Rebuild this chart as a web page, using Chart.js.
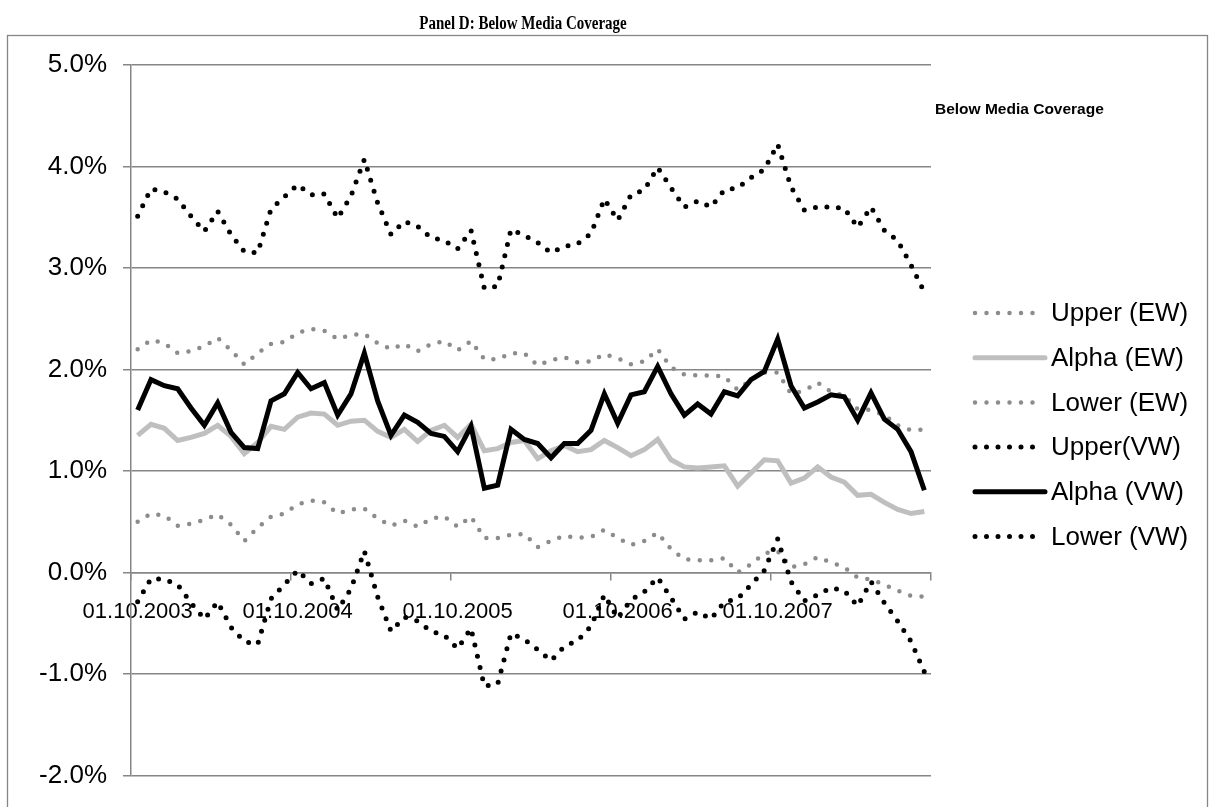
<!DOCTYPE html>
<html>
<head>
<meta charset="utf-8">
<script src="https://cdn.jsdelivr.net/npm/chart.js@4.4.1/dist/chart.umd.min.js"></script>
<style>
  html, body { margin: 0; padding: 0; background: #ffffff; }
  canvas { display: block; }
</style>
</head>
<body>
<canvas id="chart" width="1215" height="807"></canvas>
<script>
// Monthly observation dates
const months = [
  '01.10.2003','01.11.2003','01.12.2003',
  '01.01.2004','01.02.2004','01.03.2004','01.04.2004','01.05.2004','01.06.2004',
  '01.07.2004','01.08.2004','01.09.2004','01.10.2004','01.11.2004','01.12.2004',
  '01.01.2005','01.02.2005','01.03.2005','01.04.2005','01.05.2005','01.06.2005',
  '01.07.2005','01.08.2005','01.09.2005','01.10.2005','01.11.2005','01.12.2005',
  '01.01.2006','01.02.2006','01.03.2006','01.04.2006','01.05.2006','01.06.2006',
  '01.07.2006','01.08.2006','01.09.2006','01.10.2006','01.11.2006','01.12.2006',
  '01.01.2007','01.02.2007','01.03.2007','01.04.2007','01.05.2007','01.06.2007',
  '01.07.2007','01.08.2007','01.09.2007','01.10.2007','01.11.2007','01.12.2007',
  '01.01.2008','01.02.2008','01.03.2008','01.04.2008','01.05.2008','01.06.2008',
  '01.07.2008','01.08.2008','01.09.2008'
];

// Equal-weighted portfolio: alpha with upper / lower confidence bounds (in %)
const upperEW = [2.20,2.29,2.26,2.16,2.18,2.23,2.31,2.19,2.05,2.16,2.25,2.27,2.36,2.40,2.38,
                 2.30,2.34,2.35,2.26,2.20,2.25,2.18,2.25,2.28,2.19,2.28,2.10,2.10,2.16,2.16,
                 2.04,2.09,2.12,2.07,2.08,2.15,2.11,2.05,2.08,2.20,2.02,1.95,1.94,1.94,1.93,
                 1.80,1.90,1.97,1.97,1.76,1.79,1.87,1.78,1.74,1.61,1.60,1.55,1.45,1.40,1.41];
const alphaEW = [1.35,1.46,1.42,1.30,1.33,1.37,1.45,1.34,1.17,1.28,1.44,1.41,1.53,1.57,1.56,
                 1.45,1.49,1.50,1.39,1.33,1.41,1.29,1.40,1.45,1.33,1.46,1.20,1.22,1.28,1.30,
                 1.12,1.20,1.25,1.19,1.21,1.30,1.23,1.15,1.21,1.31,1.11,1.04,1.03,1.04,1.05,
                 0.85,0.98,1.11,1.10,0.88,0.93,1.04,0.94,0.89,0.76,0.77,0.69,0.62,0.58,0.60];
const lowerEW = [0.50,0.58,0.56,0.46,0.48,0.52,0.57,0.47,0.31,0.44,0.55,0.58,0.67,0.71,0.69,
                 0.58,0.62,0.63,0.53,0.46,0.51,0.45,0.53,0.55,0.45,0.55,0.34,0.34,0.37,0.38,
                 0.25,0.31,0.36,0.34,0.35,0.42,0.34,0.27,0.31,0.39,0.23,0.13,0.12,0.12,0.14,
                 0.00,0.08,0.19,0.21,0.05,0.08,0.15,0.10,0.05,-0.05,-0.07,-0.12,-0.18,-0.23,-0.24];

// Value-weighted portfolio: alpha with upper / lower confidence bounds (in %)
const upperVW = [3.51,3.78,3.75,3.68,3.51,3.36,3.56,3.33,3.16,3.15,3.58,3.70,3.82,3.72,3.73,
                 3.49,3.71,4.07,3.64,3.33,3.46,3.41,3.30,3.27,3.19,3.37,2.80,2.82,3.38,3.32,
                 3.25,3.15,3.21,3.24,3.34,3.68,3.47,3.72,3.77,3.99,3.79,3.60,3.66,3.60,3.77,
                 3.79,3.89,3.97,4.22,3.80,3.57,3.60,3.60,3.59,3.40,3.60,3.37,3.27,3.03,2.76];
const alphaVW = [1.60,1.90,1.84,1.81,1.62,1.45,1.67,1.38,1.23,1.22,1.69,1.76,1.97,1.81,1.87,
                 1.55,1.76,2.16,1.69,1.35,1.55,1.48,1.37,1.34,1.19,1.44,0.83,0.86,1.41,1.31,
                 1.27,1.13,1.27,1.27,1.40,1.76,1.47,1.75,1.78,2.03,1.76,1.55,1.66,1.56,1.78,
                 1.74,1.90,1.98,2.30,1.84,1.62,1.68,1.75,1.73,1.50,1.77,1.51,1.41,1.19,0.81];
const lowerVW = [-0.29,-0.06,-0.07,-0.12,-0.30,-0.46,-0.29,-0.54,-0.68,-0.71,-0.26,-0.12,0.02,-0.11,-0.06,
                 -0.37,-0.16,0.21,-0.24,-0.58,-0.44,-0.48,-0.58,-0.62,-0.75,-0.55,-1.12,-1.10,-0.60,-0.66,
                 -0.76,-0.87,-0.73,-0.67,-0.53,-0.22,-0.45,-0.27,-0.19,-0.05,-0.25,-0.46,-0.39,-0.46,-0.29,
                 -0.26,-0.12,0.02,0.33,-0.09,-0.28,-0.22,-0.15,-0.18,-0.33,-0.09,-0.30,-0.48,-0.68,-0.98];

const seriesNames = ['Upper (EW)', 'Alpha (EW)', 'Lower (EW)', 'Upper(VW)', 'Alpha (VW)', 'Lower (VW)'];
const yMin = -2, yMax = 5, yStep = 1;
const labelEvery = 12;

const panelTitle = 'Panel D: Below Media Coverage';
const chartTitle = 'Below Media Coverage';

const AXIS_GRAY = '#868686';
const DOT_GRAY = '#8c8c8c';
const LIGHT_GRAY = '#bfbfbf';
const SANS = '"Liberation Sans", Arial, Helvetica, sans-serif';

function dotted(color, width) {
  return { borderColor: color, borderWidth: width, borderDash: [0, 11.5], borderCapStyle: 'round' };
}
function solid(color, width) {
  return { borderColor: color, borderWidth: width, borderCapStyle: 'butt', borderJoinStyle: 'miter' };
}

const seriesValues = [upperEW, alphaEW, lowerEW, upperVW, alphaVW, lowerVW];
const seriesStyles = [
  dotted(DOT_GRAY, 4.5),
  solid(LIGHT_GRAY, 5),
  dotted(DOT_GRAY, 4.5),
  dotted('#000000', 5),
  solid('#000000', 5),
  dotted('#000000', 5)
];

const datasets = seriesValues.map((vals, i) => Object.assign({
  label: seriesNames[i],
  data: vals,
  pointRadius: 0,
  pointHoverRadius: 0,
  tension: 0,
  fill: false,
  order: seriesValues.length - i
}, seriesStyles[i]));

// Outer frame, headings and the series key
const decorations = {
  id: 'decorations',
  beforeDraw(chart) {
    const ctx = chart.ctx;
    ctx.save();
    ctx.fillStyle = '#ffffff';
    ctx.fillRect(0, 0, chart.width, chart.height);
    ctx.strokeStyle = AXIS_GRAY;
    ctx.lineWidth = 1.3;
    ctx.strokeRect(7.5, 35.5, 1200, 780);
    ctx.fillStyle = '#000000';
    // panel heading in a tall, narrow bold serif
    ctx.save();
    ctx.translate(523, 24);
    ctx.scale(1, 1.3);
    ctx.font = 'bold 15px "Liberation Serif", "Times New Roman", serif';
    ctx.textAlign = 'center';
    ctx.textBaseline = 'middle';
    ctx.fillText(panelTitle, 0, 0);
    ctx.restore();
    ctx.font = 'bold 15.5px ' + SANS;
    ctx.textAlign = 'left';
    ctx.textBaseline = 'middle';
    ctx.fillText(chartTitle, 935, 110);
    ctx.restore();
  },
  afterDraw(chart) {
    const ctx = chart.ctx;
    ctx.save();
    chart.data.datasets.forEach((ds, i) => {
      const y = 313 + i * 44.7;
      const isDotted = ds.borderDash && ds.borderDash.length;
      ctx.beginPath();
      ctx.strokeStyle = ds.borderColor;
      ctx.lineWidth = ds.borderWidth;
      ctx.setLineDash(isDotted ? ds.borderDash : []);
      ctx.lineCap = 'round';
      ctx.moveTo(975, y);
      ctx.lineTo(isDotted ? 1040 : 1045, y);
      ctx.stroke();
      ctx.setLineDash([]);
      ctx.fillStyle = '#000000';
      ctx.font = '26px ' + SANS;
      ctx.textAlign = 'left';
      ctx.textBaseline = 'middle';
      ctx.fillText(ds.label, 1051, y + 1);
    });
    ctx.restore();
  }
};

new Chart(document.getElementById('chart'), {
  type: 'line',
  data: { labels: months, datasets: datasets },
  options: {
    responsive: false,
    animation: false,
    events: [],
    layout: { padding: { left: 0, top: 65, right: 284, bottom: 24 } },
    plugins: {
      legend: { display: false },
      title: { display: false },
      tooltip: { enabled: false }
    },
    scales: {
      x: {
        type: 'category',
        offset: true,
        position: { y: 0 },
        border: { display: true, color: AXIS_GRAY, width: 1.5 },
        grid: {
          offset: true,
          drawOnChartArea: false,
          drawTicks: true,
          tickLength: 7,
          lineWidth: 1.5,
          color: (c) => (c.type !== 'tick' || c.index % labelEvery === 0) ? AXIS_GRAY : 'rgba(0,0,0,0)'
        },
        ticks: {
          autoSkip: false,
          maxRotation: 0,
          minRotation: 0,
          padding: 19,
          color: '#000000',
          font: { family: SANS, size: 22 },
          callback: (v, i) => (i % labelEvery === 0 ? months[i] : '')
        }
      },
      y: {
        min: yMin,
        max: yMax,
        afterFit: (scale) => { scale.width = 131; },
        border: { display: true, color: AXIS_GRAY, width: 1.5 },
        grid: {
          color: AXIS_GRAY,
          lineWidth: 1.5,
          drawTicks: true,
          tickLength: 8
        },
        ticks: {
          stepSize: yStep,
          padding: 16,
          color: '#000000',
          font: { family: SANS, size: 26 },
          callback: (v) => v.toFixed(1) + '%'
        }
      }
    }
  },
  plugins: [decorations]
});
</script>
</body>
</html>
